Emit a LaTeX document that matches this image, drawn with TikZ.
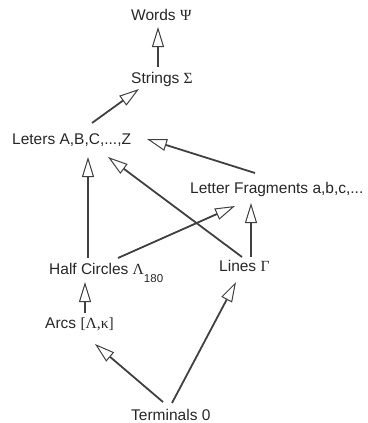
\documentclass[tikz,border=0pt]{standalone}
\usepackage{fontspec}
\setmainfont{Liberation Sans}
\newfontfamily\grk{Liberation Serif}
\usetikzlibrary{arrows.meta,calc}
\begin{document}
\begin{tikzpicture}[x=1pt,y=-1pt,
  lbl/.style={anchor=base west,inner sep=0pt,font=\fontsize{15.5}{18}\selectfont,text=black!85},
  arr/.style={draw=black!75,line width=1.8pt,-{Triangle[open,length=20pt,width=12pt,line width=1pt]}}]
\useasboundingbox (0,0) rectangle (367,423);
\node[lbl] (words) at (131,20) {Words {\grk Ψ}};
\node[lbl] (strings) at (131,83) {Strings {\grk Σ}};
\node[lbl] (leters) at (12,144) {Leters A,B,C,...,Z};
\node[lbl] (frag) at (190,193) {Letter Fragments a,b,c,...};
\node[lbl] (half) at (49,274) {Half Circles {\grk Λ}\raisebox{-8pt}{\fontsize{11.5}{12}\selectfont 180}};
\node[lbl] (lines) at (219,271) {Lines {\grk Γ}};
\node[lbl] (arcs) at (45,328) {Arcs {\grk [Λ,κ]}};
\node[lbl] (term) at (131,420) {Terminals 0};
\draw[arr] ($(strings.base west)+(27,-16)$) -- ($(words.base west)+(27,7)$);
\draw[arr] ($(leters.base west)+(80,-21)$) -- ($(strings.base west)+(8,6)$);
\draw[arr] ($(frag.base west)+(65,-20)$) -- ($(leters.base west)+(135,-5)$);
\draw[arr] ($(half.base west)+(39,-16)$) -- ($(leters.base west)+(76,13)$);
\draw[arr] ($(lines.base west)+(23,-14)$) -- ($(leters.base west)+(96,13)$);
\draw[arr] ($(half.base west)+(69,-16)$) -- ($(frag.base west)+(45,13)$);
\draw[arr] ($(lines.base west)+(32,-14)$) -- ($(frag.base west)+(61,10)$);
\draw[arr] ($(arcs.base west)+(40,-15)$) -- ($(half.base west)+(36,8)$);
\draw[arr] ($(term.base west)+(32,-18)$) -- ($(arcs.base west)+(50,16)$);
\draw[arr] ($(term.base west)+(41,-17)$) -- ($(lines.base west)+(17,11)$);
\end{tikzpicture}
\end{document}
